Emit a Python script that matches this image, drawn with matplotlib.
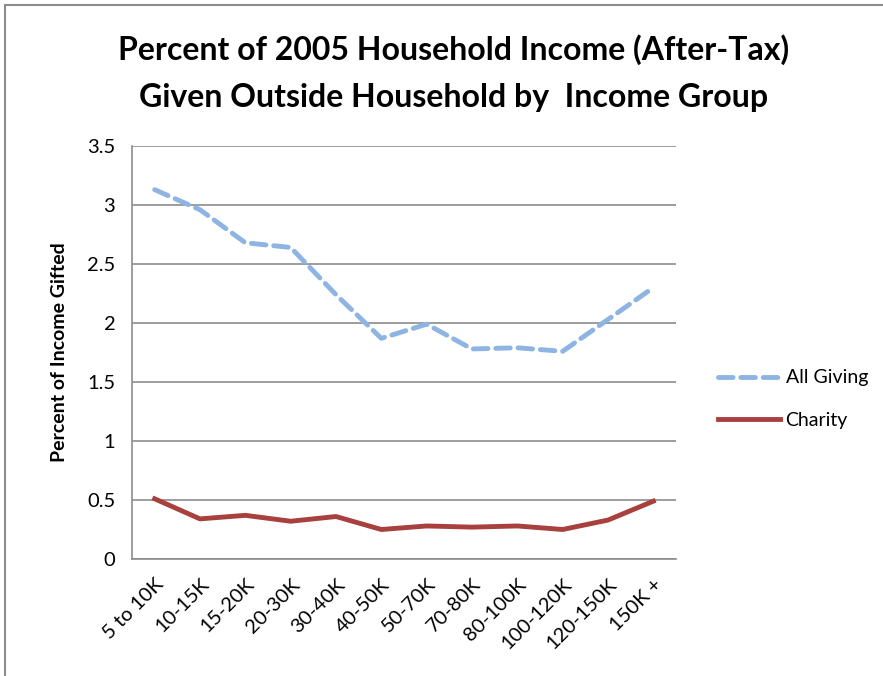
import numpy as np
import matplotlib.pyplot as plt
import matplotlib.patches as mpatches

# 数据
groups = ['5 to 10K', '10-15K', '15-20K', '20-30K', '30-40K', '40-50K',
          '50-70K', '70-80K', '80-100K', '100-120K', '120-150K', '150K +']
all_giving = [3.13, 2.96, 2.68, 2.64, 2.24, 1.87, 1.99, 1.78, 1.79, 1.76, 2.03, 2.30]
charity = [0.51, 0.34, 0.37, 0.32, 0.36, 0.25, 0.28, 0.27, 0.28, 0.25, 0.33, 0.49]
yticks = [0, 0.5, 1, 1.5, 2, 2.5, 3, 3.5]
ytick_labels = ['0', '0.5', '1', '1.5', '2', '2.5', '3', '3.5']

plt.rcParams['font.family'] = ['Lato', 'DejaVu Sans']

fig = plt.figure(figsize=(8.83, 6.76), dpi=100)
# 外框
fig.patches.append(mpatches.Rectangle((5 / 883, -0.1), 1.2, 1.1 - 5 / 676,
                                      transform=fig.transFigure, fill=False,
                                      edgecolor='#8c8c8c', linewidth=1.5))

ax = fig.add_axes([132 / 883, 1 - 559 / 676, 544 / 883, 413 / 676])
x = np.arange(len(groups))
ax.plot(x, all_giving, color='#8DB4E2', linewidth=3.5, linestyle=(0, (3, 1.6)),
        dash_capstyle='round', label='All Giving')
ax.plot(x, charity, color='#A8403E', linewidth=3.5, label='Charity')

ax.set_xlim(-0.5, len(groups) - 0.5)
ax.set_ylim(0, 3.5)
ax.set_yticks(yticks)
ax.set_yticklabels(ytick_labels, fontsize=14.5)
ax.set_xticks(x)
ax.set_xticklabels(groups, rotation=45, ha='right', rotation_mode='anchor', fontsize=14.5)
ax.tick_params(axis='y', length=0, pad=12)
ax.tick_params(axis='x', length=0, pad=12)
ax.yaxis.grid(True, color='#8c8c8c', linewidth=1.2)
ax.set_axisbelow(True)
for s in ['top', 'right']:
    ax.spines[s].set_visible(False)
for s in ['left', 'bottom']:
    ax.spines[s].set_color('#8c8c8c')
    ax.spines[s].set_linewidth(1.2)

ax.set_ylabel('Percent of Income Gifted', fontsize=14, fontweight='bold', labelpad=14)

fig.text(454 / 883, 1 - 50 / 676, 'Percent of 2005 Household Income (After-Tax)',
         ha='center', va='center', fontsize=23, fontweight='bold')
fig.text(454 / 883, 1 - 97 / 676, 'Given Outside Household by  Income Group',
         ha='center', va='center', fontsize=23, fontweight='bold')

ax.legend(loc='center left', bbox_to_anchor=(700 / 883, 1 - 399 / 676),
          bbox_transform=fig.transFigure, frameon=False, fontsize=14,
          handlelength=3.2, labelspacing=1.3, handletextpad=0.3)

fig.savefig('out.png', dpi=100)
